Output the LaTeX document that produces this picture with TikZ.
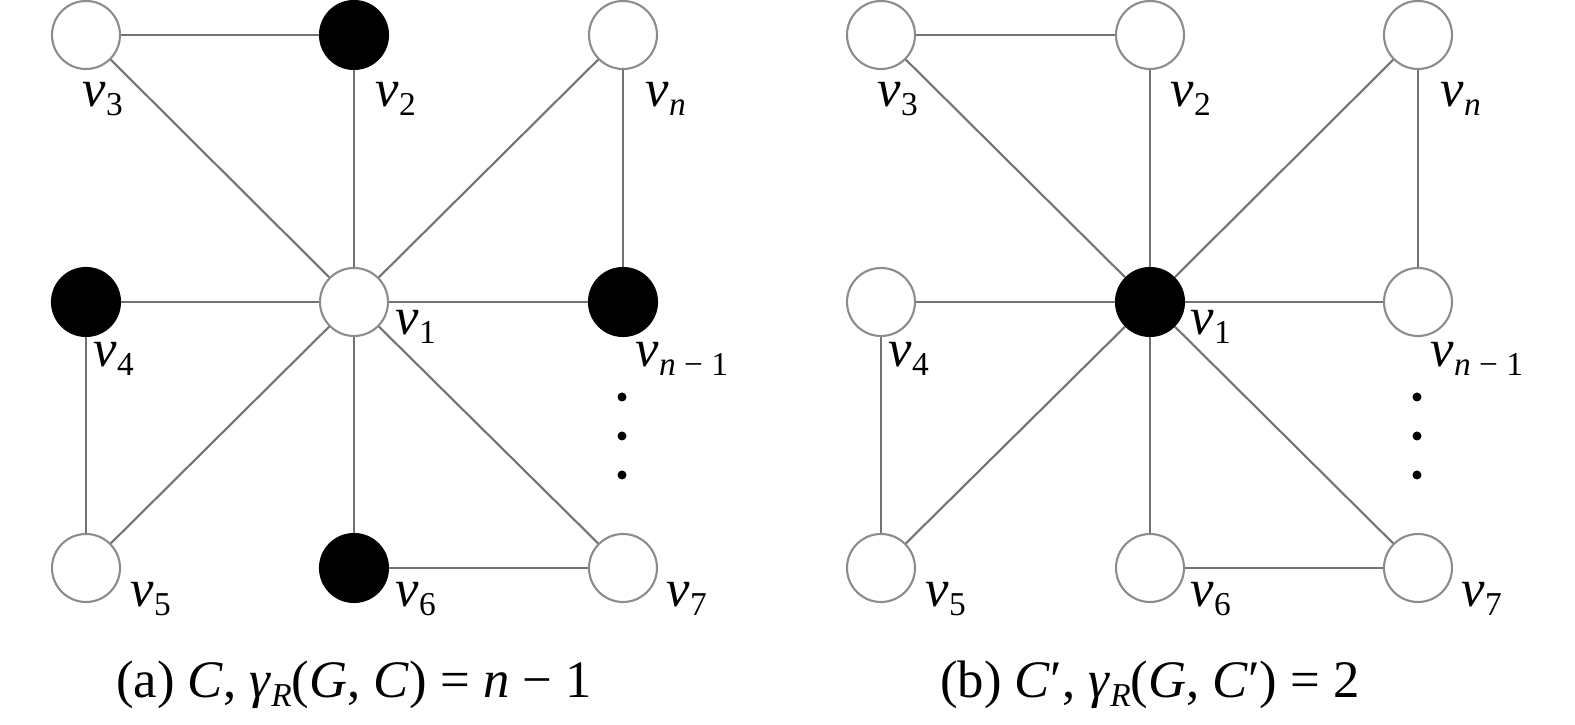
\documentclass[tikz,border=0pt]{standalone}
\usepackage{fontspec}
\setmainfont{Liberation Serif}
\newcommand{\sublab}[1]{\raisebox{-2.5pt}{\fontsize{9.5}{9.5}\selectfont #1}}
\newcommand{\vlab}[1]{\textit{v}\sublab{#1}}
\tikzset{
  vert/.style={circle,draw=black!45,line width=0.6pt,minimum size=0.68cm,inner sep=0pt,fill=white},
  dom/.style={vert,draw=black,fill=black},
  edge/.style={draw=black!55,line width=0.6pt},
  vname/.style={anchor=base west,inner sep=0pt,font=\fontsize{15}{15}\selectfont},
  capt/.style={anchor=base,inner sep=0pt,font=\fontsize{15}{15}\selectfont}
}

\begin{document}
\begin{tikzpicture}
        \useasboundingbox(0,0)rectangle(15.75,7.25);

        % (a)
        \node[vert](a3)at(0.86,6.90){};
        \node[dom](a2)at(3.54,6.90){};
        \node[vert](an)at(6.23,6.90){};
        \node[dom](a4)at(0.86,4.23){};
        \node[vert](a1)at(3.54,4.23){};
        \node[dom](am)at(6.23,4.23){};
        \node[vert](a5)at(0.86,1.57){};
        \node[dom](a6)at(3.54,1.57){};
        \node[vert](a7)at(6.23,1.57){};

        \draw[edge](a3)--(a2);
        \draw[edge](a3)--(a1);
        \draw[edge](a2)--(a1);
        \draw[edge](an)--(a1);
        \draw[edge](an)--(am);
        \draw[edge](a4)--(a1);
        \draw[edge](a1)--(am);
        \draw[edge](a4)--(a5);
        \draw[edge](a5)--(a1);
        \draw[edge](a6)--(a1);
        \draw[edge](a7)--(a1);
        \draw[edge](a6)--(a7);

        \node[vname](la3)at(0.82,6.18){\vlab{3}};
        \node[vname](la2)at(3.75,6.18){\vlab{2}};
        \node[vname](lan)at(6.45,6.18){\vlab{\textit{n}}};
        \node[vname](la4)at(0.93,3.58){\vlab{4}};
        \node[vname](la1)at(3.95,3.90){\vlab{1}};
        \node[vname](lam)at(6.35,3.58){\vlab{\textit{n} − 1}};
        \node[vname](la5)at(1.30,1.18){\vlab{5}};
        \node[vname](la6)at(3.95,1.18){\vlab{6}};
        \node[vname](la7)at(6.66,1.18){\vlab{7}};

        \fill(6.22,3.28)circle(0.045) (6.22,2.89)circle(0.045) (6.22,2.50)circle(0.045);

        \node[capt](capa)at(3.54,0.27){(a) \textit{C}, \textit{γ}\sublab{\textit{R}}(\textit{G}, \textit{C}) = \textit{n} − 1};

        % (b)
        \node[vert](b3)at(8.81,6.90){};
        \node[vert](b2)at(11.50,6.90){};
        \node[vert](bn)at(14.18,6.90){};
        \node[vert](b4)at(8.81,4.23){};
        \node[dom](b1)at(11.50,4.23){};
        \node[vert](bm)at(14.18,4.23){};
        \node[vert](b5)at(8.81,1.57){};
        \node[vert](b6)at(11.50,1.57){};
        \node[vert](b7)at(14.18,1.57){};

        \draw[edge](b3)--(b2);
        \draw[edge](b3)--(b1);
        \draw[edge](b2)--(b1);
        \draw[edge](bn)--(b1);
        \draw[edge](bn)--(bm);
        \draw[edge](b4)--(b1);
        \draw[edge](b1)--(bm);
        \draw[edge](b4)--(b5);
        \draw[edge](b5)--(b1);
        \draw[edge](b6)--(b1);
        \draw[edge](b7)--(b1);
        \draw[edge](b6)--(b7);

        \node[vname](lb3)at(8.77,6.18){\vlab{3}};
        \node[vname](lb2)at(11.70,6.18){\vlab{2}};
        \node[vname](lbn)at(14.40,6.18){\vlab{\textit{n}}};
        \node[vname](lb4)at(8.88,3.58){\vlab{4}};
        \node[vname](lb1)at(11.90,3.90){\vlab{1}};
        \node[vname](lbm)at(14.30,3.58){\vlab{\textit{n} − 1}};
        \node[vname](lb5)at(9.25,1.18){\vlab{5}};
        \node[vname](lb6)at(11.90,1.18){\vlab{6}};
        \node[vname](lb7)at(14.61,1.18){\vlab{7}};

        \fill(14.17,3.28)circle(0.045) (14.17,2.89)circle(0.045) (14.17,2.50)circle(0.045);

        \node[capt](captb)at(11.50,0.27){(b) \textit{C}′, \textit{γ}\sublab{\textit{R}}(\textit{G}, \textit{C}′) = 2};
    \end{tikzpicture}
\end{document}
